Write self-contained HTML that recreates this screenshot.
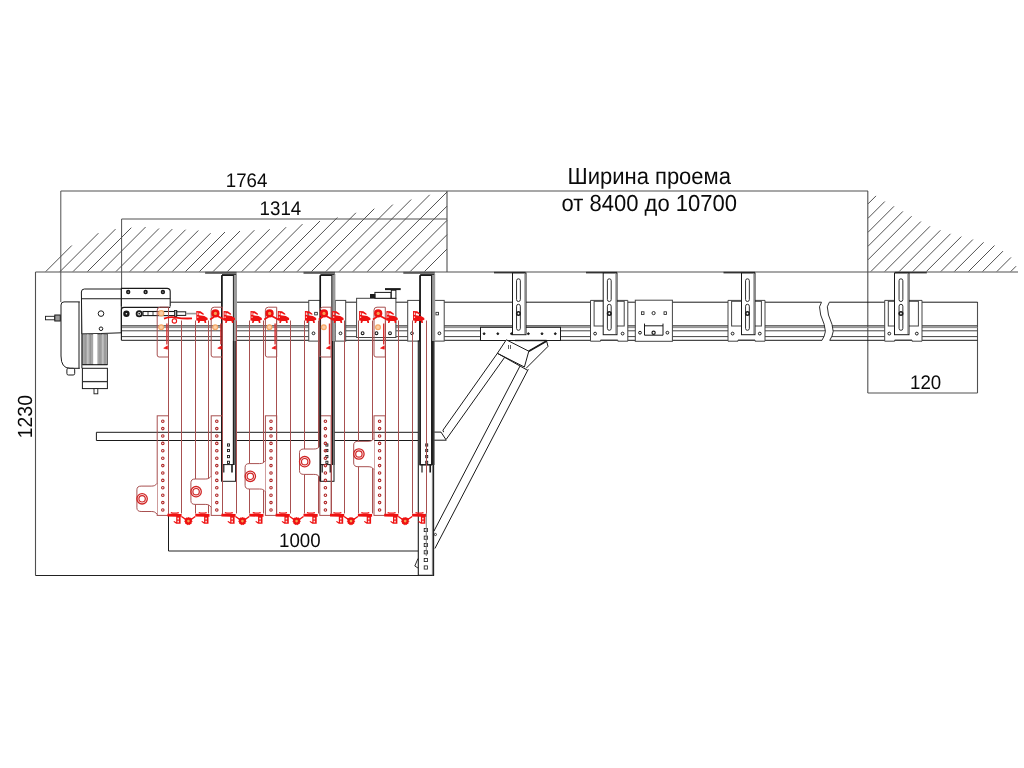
<!DOCTYPE html>
<html><head><meta charset="utf-8"><style>html,body{margin:0;padding:0;background:#fff;}svg{display:block;will-change:transform;}</style></head>
<body><svg width="1024" height="768" viewBox="0 0 1024 768">
<rect width="1024" height="768" fill="#fff"/>
<line x1="45.8" y1="271.5" x2="71.8" y2="245.5" stroke="#262626" stroke-width="0.8" />
<line x1="60.1" y1="271.5" x2="98.4" y2="233.2" stroke="#262626" stroke-width="0.8" />
<line x1="73.1" y1="271.5" x2="115.5" y2="229.1" stroke="#262626" stroke-width="0.8" />
<line x1="87.5" y1="271.5" x2="131.3" y2="227.7" stroke="#262626" stroke-width="0.8" />
<line x1="101.1" y1="271.5" x2="145.6" y2="227" stroke="#262626" stroke-width="0.8" />
<line x1="116" y1="271.5" x2="159" y2="228.5" stroke="#262626" stroke-width="0.8" />
<line x1="129.9" y1="271.5" x2="172.3" y2="229.1" stroke="#262626" stroke-width="0.8" />
<line x1="143.8" y1="271.5" x2="185.6" y2="229.7" stroke="#262626" stroke-width="0.8" />
<line x1="157.3" y1="271.5" x2="198.3" y2="230.5" stroke="#262626" stroke-width="0.8" />
<line x1="172.3" y1="271.5" x2="210.6" y2="233.2" stroke="#262626" stroke-width="0.8" />
<line x1="185.5" y1="271.5" x2="225" y2="232" stroke="#262626" stroke-width="0.8" />
<line x1="199.5" y1="271.5" x2="240" y2="231" stroke="#262626" stroke-width="0.8" />
<line x1="213.1" y1="271.5" x2="254.4" y2="230.2" stroke="#262626" stroke-width="0.8" />
<line x1="227.4" y1="271.5" x2="269.7" y2="229.2" stroke="#262626" stroke-width="0.8" />
<line x1="241.8" y1="271.5" x2="286.1" y2="227.2" stroke="#262626" stroke-width="0.8" />
<line x1="255.1" y1="271.5" x2="302.5" y2="224.1" stroke="#262626" stroke-width="0.8" />
<line x1="269.5" y1="271.5" x2="320" y2="221" stroke="#262626" stroke-width="0.8" />
<line x1="283.4" y1="271.5" x2="337.4" y2="217.5" stroke="#262626" stroke-width="0.8" />
<line x1="297.2" y1="271.5" x2="355.9" y2="212.8" stroke="#262626" stroke-width="0.8" />
<line x1="311.5" y1="271.5" x2="374.3" y2="208.7" stroke="#262626" stroke-width="0.8" />
<line x1="325.9" y1="271.5" x2="392.8" y2="204.6" stroke="#262626" stroke-width="0.8" />
<line x1="339.2" y1="271.5" x2="411.2" y2="199.5" stroke="#262626" stroke-width="0.8" />
<line x1="353" y1="271.5" x2="429.7" y2="194.8" stroke="#262626" stroke-width="0.8" />
<line x1="367.3" y1="271.5" x2="447" y2="192" stroke="#262626" stroke-width="0.8" />
<line x1="381.6" y1="271.5" x2="447" y2="206.1" stroke="#262626" stroke-width="0.8" />
<line x1="395.9" y1="271.5" x2="447" y2="220.4" stroke="#262626" stroke-width="0.8" />
<line x1="410.2" y1="271.5" x2="447" y2="234.7" stroke="#262626" stroke-width="0.8" />
<line x1="424.5" y1="271.5" x2="447" y2="249" stroke="#262626" stroke-width="0.8" />
<line x1="868" y1="203.9" x2="876" y2="195.9" stroke="#262626" stroke-width="0.8" />
<line x1="868" y1="218.3" x2="884.8" y2="201.5" stroke="#262626" stroke-width="0.8" />
<line x1="868" y1="232.3" x2="894" y2="206.3" stroke="#262626" stroke-width="0.8" />
<line x1="868" y1="246.3" x2="902.9" y2="211.4" stroke="#262626" stroke-width="0.8" />
<line x1="868" y1="259.8" x2="911.6" y2="216.2" stroke="#262626" stroke-width="0.8" />
<line x1="870.9" y1="271.5" x2="920.9" y2="221.5" stroke="#262626" stroke-width="0.8" />
<line x1="884.8" y1="271.5" x2="930" y2="226.3" stroke="#262626" stroke-width="0.8" />
<line x1="899.2" y1="271.5" x2="940.4" y2="230.3" stroke="#262626" stroke-width="0.8" />
<line x1="912.8" y1="271.5" x2="950.5" y2="233.8" stroke="#262626" stroke-width="0.8" />
<line x1="926.4" y1="271.5" x2="961.3" y2="236.6" stroke="#262626" stroke-width="0.8" />
<line x1="940.9" y1="271.5" x2="972.9" y2="239.5" stroke="#262626" stroke-width="0.8" />
<line x1="954.4" y1="271.5" x2="983.6" y2="242.3" stroke="#262626" stroke-width="0.8" />
<line x1="968.5" y1="271.5" x2="994.5" y2="245.5" stroke="#262626" stroke-width="0.8" />
<line x1="982.6" y1="271.5" x2="1003" y2="251.1" stroke="#262626" stroke-width="0.8" />
<line x1="996.9" y1="271.5" x2="1011" y2="257.4" stroke="#262626" stroke-width="0.8" />
<line x1="1010.8" y1="271.5" x2="1016.1" y2="266.2" stroke="#262626" stroke-width="0.8" />
<line x1="60.8" y1="191" x2="868" y2="191" stroke="#505050" stroke-width="1.1" />
<line x1="60.8" y1="191" x2="60.8" y2="302" stroke="#505050" stroke-width="1" />
<line x1="121.6" y1="219" x2="447" y2="219" stroke="#505050" stroke-width="1.1" />
<line x1="121.6" y1="219" x2="121.6" y2="307" stroke="#505050" stroke-width="1" />
<line x1="447" y1="191" x2="447" y2="272" stroke="#505050" stroke-width="1.1" />
<line x1="867.8" y1="191" x2="867.8" y2="393" stroke="#505050" stroke-width="1.1" />
<line x1="35.5" y1="272" x2="1018" y2="272" stroke="#505050" stroke-width="1.2" />
<line x1="35.5" y1="272" x2="35.5" y2="575.5" stroke="#505050" stroke-width="1.1" />
<line x1="35.5" y1="575.5" x2="434" y2="575.5" stroke="#222" stroke-width="1.1" />
<line x1="168.5" y1="514" x2="168.5" y2="551" stroke="#1a1a1a" stroke-width="1" />
<line x1="168.5" y1="551" x2="418" y2="551" stroke="#222" stroke-width="1" />
<line x1="867.8" y1="393" x2="977.5" y2="393" stroke="#505050" stroke-width="1.1" />
<line x1="977.5" y1="302" x2="977.5" y2="393" stroke="#505050" stroke-width="1.1" />
<g font-family="Liberation Sans, sans-serif" fill="#0a0a0a" text-rendering="geometricPrecision">
<text transform="translate(567.5,184) scale(1,1.055)" font-size="22">Ширина проема</text>
<text transform="translate(561.6,211.3) scale(1,1.055)" font-size="22">от 8400 до 10700</text>
<text transform="translate(225.8,187) scale(1,1.055)" font-size="18.7">1764</text>
<text transform="translate(259.6,215) scale(1,1.055)" font-size="18.7">1314</text>
<text transform="translate(279,547) scale(1,1.055)" font-size="18.7">1000</text>
<text transform="translate(910,389) scale(1,1.055)" font-size="18.7">120</text>
<text transform="translate(31.6,438.2) rotate(-90) scale(1,1.055)" font-size="19.4">1230</text>
</g>
<line x1="96.4" y1="432.3" x2="418" y2="432.3" stroke="#1a1a1a" stroke-width="1" />
<line x1="96.4" y1="440.5" x2="418" y2="440.5" stroke="#1a1a1a" stroke-width="1" />
<line x1="96.4" y1="432.3" x2="96.4" y2="440.5" stroke="#1a1a1a" stroke-width="1" />
<line x1="434" y1="432.1" x2="441" y2="432.1" stroke="#1a1a1a" stroke-width="1" />
<line x1="434" y1="440.2" x2="446.3" y2="440.2" stroke="#1a1a1a" stroke-width="1" />
<line x1="170.2" y1="302.2" x2="821.5" y2="302.2" stroke="#1a1a1a" stroke-width="1.0" />
<line x1="829.3" y1="302.2" x2="977.5" y2="302.2" stroke="#1a1a1a" stroke-width="1.0" />
<line x1="121.4" y1="325.8" x2="824.4" y2="325.8" stroke="#3c3c3c" stroke-width="1.3" />
<line x1="832.2" y1="325.8" x2="977.5" y2="325.8" stroke="#3c3c3c" stroke-width="1.3" />
<line x1="121.4" y1="327.6" x2="824.8" y2="327.6" stroke="#8a8a8a" stroke-width="1.0" />
<line x1="832.6" y1="327.6" x2="977.5" y2="327.6" stroke="#8a8a8a" stroke-width="1.0" />
<line x1="121.4" y1="330.8" x2="825.3" y2="330.8" stroke="#444" stroke-width="1.0" />
<line x1="833.1" y1="330.8" x2="977.5" y2="330.8" stroke="#444" stroke-width="1.0" />
<line x1="121.4" y1="336.6" x2="824" y2="336.6" stroke="#444" stroke-width="1.0" />
<line x1="831.8" y1="336.6" x2="977.5" y2="336.6" stroke="#444" stroke-width="1.0" />
<line x1="121.4" y1="340.3" x2="822" y2="340.3" stroke="#1a1a1a" stroke-width="1.0" />
<line x1="829.8" y1="340.3" x2="977.5" y2="340.3" stroke="#1a1a1a" stroke-width="1.0" />
<path d="M821.5,302.3 L819.5,306.8 L820.7,315 L824.2,324.4 L825.4,331.4 L824.2,336.1 L821.9,340.4" stroke="#1a1a1a" stroke-width="0.9" fill="none" />
<path d="M829.3,302.3 L827.3,306.8 L828.5,315 L832,324.4 L833.2,331.4 L832,336.1 L829.7,340.4" stroke="#1a1a1a" stroke-width="0.9" fill="none" />
<path d="M79.8,301.9 H64 Q61,301.9 61,305 V356 Q61,368.3 70,368.3 H79.8" stroke="#1a1a1a" stroke-width="1" fill="#fff" />
<line x1="79" y1="301.9" x2="79" y2="368.3" stroke="#1a1a1a" stroke-width="1" />
<line x1="81.9" y1="301.9" x2="81.9" y2="368.3" stroke="#1a1a1a" stroke-width="1" />
<rect x="45.5" y="316.3" width="9.3" height="3.5" stroke="#1a1a1a" stroke-width="0.9" fill="#fff" rx="0" />
<rect x="54.8" y="315" width="5.5" height="6" stroke="#1a1a1a" stroke-width="1" fill="#999" rx="0" />
<rect x="66.9" y="368.3" width="7.8" height="6.7" stroke="#1a1a1a" stroke-width="1" fill="#fff" rx="1.5" />
<path d="M81.4,292 Q81.4,289 84.4,289 H121.3 V332.8 Q100,333.6 81.9,334 Z" stroke="#1a1a1a" stroke-width="1" fill="#fff" />
<line x1="81.4" y1="298.75" x2="121.3" y2="298.75" stroke="#1a1a1a" stroke-width="1" />
<circle cx="101" cy="313.6" r="2.8" stroke="#1a1a1a" stroke-width="1" fill="none"/>
<circle cx="101" cy="328.75" r="1.8" stroke="#1a1a1a" stroke-width="1" fill="none"/>
<rect x="82.4" y="334" width="25" height="30.7" stroke="#444" stroke-width="0.8" fill="#a6a6a6" rx="0" />
<rect x="93.2" y="334" width="4.2" height="30.7" stroke="none" stroke-width="0" fill="#fff" rx="0" />
<line x1="85.2" y1="334" x2="85.2" y2="364.7" stroke="#8a8a8a" stroke-width="0.7" />
<line x1="87.9" y1="334" x2="87.9" y2="364.7" stroke="#e8e8e8" stroke-width="0.7" />
<line x1="90.4" y1="334" x2="90.4" y2="364.7" stroke="#8a8a8a" stroke-width="0.7" />
<line x1="100" y1="334" x2="100" y2="364.7" stroke="#8a8a8a" stroke-width="0.7" />
<line x1="102.9" y1="334" x2="102.9" y2="364.7" stroke="#e8e8e8" stroke-width="0.7" />
<line x1="105" y1="334" x2="105" y2="364.7" stroke="#8a8a8a" stroke-width="0.7" />
<line x1="82.4" y1="364.7" x2="107.4" y2="364.7" stroke="#1a1a1a" stroke-width="1" />
<rect x="82.4" y="368.3" width="25" height="20.3" stroke="#1a1a1a" stroke-width="1" fill="#fff" rx="0" />
<line x1="82.4" y1="381.6" x2="107.4" y2="381.6" stroke="#333" stroke-width="1.3" />
<rect x="94" y="388.6" width="3.8" height="5.2" stroke="#1a1a1a" stroke-width="0.9" fill="#fff" rx="0" />
<path d="M121.4,306.4 V288.4 H167 Q170.2,288.4 170.2,291.6 V306.4" stroke="#1a1a1a" stroke-width="1.1" fill="#fff" />
<line x1="121.4" y1="298.7" x2="170.2" y2="298.7" stroke="#1a1a1a" stroke-width="1" />
<circle cx="128.2" cy="292" r="1.4" stroke="#1a1a1a" stroke-width="1.6" fill="none"/>
<circle cx="145.6" cy="292" r="1.4" stroke="#1a1a1a" stroke-width="1.6" fill="none"/>
<circle cx="162.9" cy="292" r="1.4" stroke="#1a1a1a" stroke-width="1.6" fill="none"/>
<path d="M121.4,340.2 V310 Q121.4,307.4 124,307.4 H170.2" stroke="#1a1a1a" stroke-width="1.1" fill="none" />
<circle cx="126.4" cy="313.7" r="3.2" stroke="#1a1a1a" stroke-width="0" fill="#1a1a1a"/>
<circle cx="126.4" cy="313.7" r="0.8" stroke="#fff" stroke-width="0" fill="#fff"/>
<circle cx="139.2" cy="313.7" r="2.6" stroke="#1a1a1a" stroke-width="1.8" fill="#fff"/>
<circle cx="139.2" cy="313.7" r="0.9" stroke="#1a1a1a" stroke-width="0" fill="#1a1a1a"/>
<rect x="143" y="311.5" width="33.6" height="4.1" stroke="#1a1a1a" stroke-width="1.1" fill="#fff" rx="0" />
<line x1="148" y1="311.5" x2="148" y2="315.6" stroke="#1a1a1a" stroke-width="0.8" />
<line x1="153" y1="311.5" x2="153" y2="315.6" stroke="#1a1a1a" stroke-width="0.8" />
<rect x="174.5" y="310.5" width="2.3" height="6" stroke="#1a1a1a" stroke-width="0.8" fill="#aaa" rx="0" />
<rect x="176.8" y="311.8" width="8.9" height="3.6" stroke="#1a1a1a" stroke-width="1" fill="#fff" rx="0" />
<line x1="185.7" y1="313.6" x2="196" y2="313.6" stroke="#999" stroke-width="1.6" />
<rect x="308.75" y="300.4" width="11.45" height="40.7" stroke="#444" stroke-width="1" fill="#fff" rx="0" />
<circle cx="313.5" cy="333.3" r="1.4" stroke="#1a1a1a" stroke-width="1" fill="none"/>
<rect x="314.7" y="312.3" width="2.6" height="2.6" stroke="#1a1a1a" stroke-width="0.8" fill="none" rx="0" />
<rect x="335.3" y="300.4" width="10.4" height="40.7" stroke="#444" stroke-width="1" fill="#fff" rx="0" />
<circle cx="340.5" cy="333.3" r="1.4" stroke="#1a1a1a" stroke-width="1" fill="none"/>
<rect x="407.7" y="300.4" width="11.8" height="40.7" stroke="#444" stroke-width="1" fill="#fff" rx="0" />
<circle cx="412" cy="333.3" r="1.4" stroke="#1a1a1a" stroke-width="1" fill="none"/>
<rect x="434.5" y="300.4" width="9.7" height="40.7" stroke="#444" stroke-width="1" fill="#fff" rx="0" />
<circle cx="439.4" cy="333.3" r="1.4" stroke="#1a1a1a" stroke-width="1" fill="none"/>
<rect x="435.9" y="312.3" width="2.6" height="2.6" stroke="#1a1a1a" stroke-width="0.8" fill="none" rx="0" />
<rect x="356.6" y="298.3" width="39.3" height="39.2" stroke="#444" stroke-width="1" fill="#fff" rx="0" />
<rect x="374.9" y="292.4" width="16.1" height="5.9" stroke="#1a1a1a" stroke-width="1" fill="#fff" rx="0" />
<rect x="370.5" y="294.5" width="4.4" height="3" stroke="#1a1a1a" stroke-width="1" fill="#1a1a1a" rx="0" />
<rect x="391.3" y="290.2" width="4.6" height="8.1" stroke="#1a1a1a" stroke-width="1" fill="#fff" rx="0" />
<line x1="385" y1="289.1" x2="400.7" y2="289.1" stroke="#1a1a1a" stroke-width="2.0" />
<circle cx="362.6" cy="333.2" r="1.4" stroke="#1a1a1a" stroke-width="1.1" fill="none"/>
<circle cx="376.5" cy="333.2" r="1.4" stroke="#1a1a1a" stroke-width="1.1" fill="none"/>
<circle cx="390" cy="333.2" r="1.4" stroke="#1a1a1a" stroke-width="1.1" fill="none"/>
<line x1="205.1" y1="272.8" x2="236.6" y2="272.8" stroke="#555" stroke-width="2.0" />
<rect x="221.8" y="275.5" width="13.8" height="205.8" stroke="#1a1a1a" stroke-width="1" fill="#fff" rx="0" />
<line x1="221.9" y1="275.5" x2="221.9" y2="481.3" stroke="#111" stroke-width="1.5" />
<rect x="233.6" y="274" width="3.4" height="67" stroke="none" stroke-width="0" fill="#9a9a9a" rx="0" />
<line x1="233.8" y1="341" x2="233.8" y2="465" stroke="#1a1a1a" stroke-width="1.8" />
<line x1="235.9" y1="341" x2="235.9" y2="465" stroke="#555" stroke-width="1" />
<line x1="233.4" y1="274" x2="233.4" y2="465" stroke="#222" stroke-width="1" />
<line x1="222" y1="274.5" x2="236" y2="274.5" stroke="#333" stroke-width="1" />
<line x1="221.8" y1="464.6" x2="233.4" y2="464.6" stroke="#1a1a1a" stroke-width="1" />
<line x1="223.8" y1="464.6" x2="223.8" y2="472.5" stroke="#1a1a1a" stroke-width="1.2" />
<line x1="232" y1="464.6" x2="232" y2="472.5" stroke="#1a1a1a" stroke-width="1.6" />
<rect x="227.5" y="443.9" width="2" height="2.2" stroke="#1a1a1a" stroke-width="0.9" fill="none" rx="0" />
<rect x="227.5" y="449.4" width="2" height="2.2" stroke="#1a1a1a" stroke-width="0.9" fill="none" rx="0" />
<rect x="227.5" y="455.5" width="2" height="2.2" stroke="#1a1a1a" stroke-width="0.9" fill="none" rx="0" />
<rect x="227.5" y="461.2" width="2" height="2.2" stroke="#1a1a1a" stroke-width="0.9" fill="none" rx="0" />
<line x1="303.5" y1="272.8" x2="335" y2="272.8" stroke="#555" stroke-width="2.0" />
<rect x="320.2" y="275.5" width="13.8" height="205.8" stroke="#1a1a1a" stroke-width="1" fill="#fff" rx="0" />
<line x1="320.3" y1="275.5" x2="320.3" y2="481.3" stroke="#111" stroke-width="1.5" />
<rect x="332" y="274" width="3.4" height="67" stroke="none" stroke-width="0" fill="#9a9a9a" rx="0" />
<line x1="332.2" y1="341" x2="332.2" y2="465" stroke="#1a1a1a" stroke-width="1.8" />
<line x1="334.3" y1="341" x2="334.3" y2="465" stroke="#555" stroke-width="1" />
<line x1="331.8" y1="274" x2="331.8" y2="465" stroke="#222" stroke-width="1" />
<line x1="320.4" y1="274.5" x2="334.4" y2="274.5" stroke="#333" stroke-width="1" />
<line x1="320.2" y1="464.6" x2="331.8" y2="464.6" stroke="#1a1a1a" stroke-width="1" />
<line x1="322.2" y1="464.6" x2="322.2" y2="472.5" stroke="#1a1a1a" stroke-width="1.2" />
<line x1="330.4" y1="464.6" x2="330.4" y2="472.5" stroke="#1a1a1a" stroke-width="1.6" />
<rect x="325.9" y="443.9" width="2" height="2.2" stroke="#1a1a1a" stroke-width="0.9" fill="none" rx="0" />
<rect x="325.9" y="449.4" width="2" height="2.2" stroke="#1a1a1a" stroke-width="0.9" fill="none" rx="0" />
<rect x="325.9" y="455.5" width="2" height="2.2" stroke="#1a1a1a" stroke-width="0.9" fill="none" rx="0" />
<rect x="325.9" y="461.2" width="2" height="2.2" stroke="#1a1a1a" stroke-width="0.9" fill="none" rx="0" />
<rect x="418.3" y="341" width="15.3" height="234.3" stroke="#1a1a1a" stroke-width="1.1" fill="#fff" rx="0" />
<line x1="432.4" y1="341" x2="432.4" y2="575.3" stroke="#666" stroke-width="0.9" />
<line x1="403.3" y1="272.8" x2="434.8" y2="272.8" stroke="#555" stroke-width="2.0" />
<rect x="420" y="275.5" width="11.6" height="189.5" stroke="#1a1a1a" stroke-width="1" fill="#fff" rx="0" />
<line x1="420.1" y1="275.5" x2="420.1" y2="465" stroke="#111" stroke-width="1.5" />
<rect x="431.8" y="274" width="3.4" height="67" stroke="none" stroke-width="0" fill="#9a9a9a" rx="0" />
<line x1="432" y1="341" x2="432" y2="465" stroke="#1a1a1a" stroke-width="1.8" />
<line x1="434.1" y1="341" x2="434.1" y2="465" stroke="#555" stroke-width="1" />
<line x1="431.6" y1="274" x2="431.6" y2="465" stroke="#222" stroke-width="1" />
<line x1="420.2" y1="274.5" x2="434.2" y2="274.5" stroke="#333" stroke-width="1" />
<line x1="420" y1="464.6" x2="431.6" y2="464.6" stroke="#1a1a1a" stroke-width="1" />
<line x1="422" y1="464.6" x2="422" y2="472.5" stroke="#1a1a1a" stroke-width="1.2" />
<line x1="430.2" y1="464.6" x2="430.2" y2="472.5" stroke="#1a1a1a" stroke-width="1.6" />
<rect x="425.7" y="443.9" width="2" height="2.2" stroke="#1a1a1a" stroke-width="0.9" fill="none" rx="0" />
<rect x="425.7" y="449.4" width="2" height="2.2" stroke="#1a1a1a" stroke-width="0.9" fill="none" rx="0" />
<rect x="425.7" y="455.5" width="2" height="2.2" stroke="#1a1a1a" stroke-width="0.9" fill="none" rx="0" />
<rect x="425.7" y="461.2" width="2" height="2.2" stroke="#1a1a1a" stroke-width="0.9" fill="none" rx="0" />
<rect x="424.2" y="528.4" width="3.2" height="3.2" stroke="#1a1a1a" stroke-width="0.8" fill="none" rx="0" />
<rect x="424.2" y="536.1" width="3.2" height="3.2" stroke="#1a1a1a" stroke-width="0.8" fill="none" rx="0" />
<rect x="424.2" y="543.4" width="3.2" height="3.2" stroke="#1a1a1a" stroke-width="0.8" fill="none" rx="0" />
<rect x="424.2" y="550.7" width="3.2" height="3.2" stroke="#1a1a1a" stroke-width="0.8" fill="none" rx="0" />
<rect x="424.2" y="558.4" width="3.2" height="3.2" stroke="#1a1a1a" stroke-width="0.8" fill="none" rx="0" />
<rect x="424.2" y="565.9" width="3.2" height="3.2" stroke="#1a1a1a" stroke-width="0.8" fill="none" rx="0" />
<path d="M418,558.5 L414.8,566 L418,568" stroke="#1a1a1a" stroke-width="0.9" fill="none" />
<rect x="480.5" y="327.3" width="80" height="13.2" stroke="#1a1a1a" stroke-width="1" fill="#fff" rx="0" />
<circle cx="484.1" cy="333.7" r="0.9" stroke="#1a1a1a" stroke-width="1" fill="#1a1a1a"/>
<circle cx="497.8" cy="333.7" r="0.9" stroke="#1a1a1a" stroke-width="1" fill="#1a1a1a"/>
<circle cx="511.5" cy="333.7" r="0.9" stroke="#1a1a1a" stroke-width="1" fill="#1a1a1a"/>
<circle cx="528.4" cy="333.7" r="0.9" stroke="#1a1a1a" stroke-width="1" fill="#1a1a1a"/>
<circle cx="542" cy="333.7" r="0.9" stroke="#1a1a1a" stroke-width="1" fill="#1a1a1a"/>
<circle cx="555.3" cy="333.7" r="0.9" stroke="#1a1a1a" stroke-width="1" fill="#1a1a1a"/>
<line x1="494" y1="272.6" x2="525.5" y2="272.6" stroke="#333" stroke-width="1.6" />
<rect x="512.5" y="273" width="13.5" height="61.7" stroke="#1a1a1a" stroke-width="1" fill="#fff" rx="0" />
<line x1="524.8" y1="274" x2="524.8" y2="334" stroke="#777" stroke-width="0.8" />
<rect x="516.55" y="278.8" width="3.8" height="22.7" stroke="#1a1a1a" stroke-width="0.9" fill="none" rx="1.9" />
<rect x="516.55" y="304.3" width="3.8" height="26" stroke="#1a1a1a" stroke-width="0.9" fill="none" rx="1.9" />
<circle cx="518.45" cy="313.5" r="2.5" stroke="#1a1a1a" stroke-width="0" fill="#1a1a1a"/>
<circle cx="518.45" cy="313.5" r="0.9" stroke="#fff" stroke-width="0" fill="#fff"/>
<path d="M590.5,300.4 H627.8 V341.2 H617.8 V340 H600.5 V341.2 H590.5 Z" stroke="#444" stroke-width="1" fill="#fff" />
<rect x="594.1" y="301.3" width="30.1" height="24.7" stroke="#444" stroke-width="1" fill="#fff" rx="0" />
<circle cx="595.1" cy="333.6" r="1.4" stroke="#1a1a1a" stroke-width="1" fill="none"/>
<circle cx="622.6" cy="333.6" r="1.4" stroke="#1a1a1a" stroke-width="1" fill="none"/>
<line x1="586" y1="272.6" x2="617" y2="272.6" stroke="#333" stroke-width="1.6" />
<rect x="603.2" y="273" width="13.8" height="61.7" stroke="#1a1a1a" stroke-width="1" fill="#fff" rx="0" />
<line x1="615.8" y1="274" x2="615.8" y2="334" stroke="#777" stroke-width="0.8" />
<rect x="607.4" y="278.8" width="3.8" height="22.7" stroke="#1a1a1a" stroke-width="0.9" fill="none" rx="1.9" />
<rect x="607.4" y="304.3" width="3.8" height="26" stroke="#1a1a1a" stroke-width="0.9" fill="none" rx="1.9" />
<circle cx="609.3" cy="313.5" r="2.5" stroke="#1a1a1a" stroke-width="0" fill="#1a1a1a"/>
<circle cx="609.3" cy="313.5" r="0.9" stroke="#fff" stroke-width="0" fill="#fff"/>
<path d="M728,300.4 H765 V341.2 H755 V340 H738 V341.2 H728 Z" stroke="#444" stroke-width="1" fill="#fff" />
<rect x="731.6" y="301.3" width="29.8" height="24.7" stroke="#444" stroke-width="1" fill="#fff" rx="0" />
<circle cx="732.6" cy="333.6" r="1.4" stroke="#1a1a1a" stroke-width="1" fill="none"/>
<circle cx="759.8" cy="333.6" r="1.4" stroke="#1a1a1a" stroke-width="1" fill="none"/>
<line x1="723.5" y1="272.6" x2="755" y2="272.6" stroke="#333" stroke-width="1.6" />
<rect x="741.5" y="273" width="13.5" height="61.7" stroke="#1a1a1a" stroke-width="1" fill="#fff" rx="0" />
<line x1="753.8" y1="274" x2="753.8" y2="334" stroke="#777" stroke-width="0.8" />
<rect x="745.55" y="278.8" width="3.8" height="22.7" stroke="#1a1a1a" stroke-width="0.9" fill="none" rx="1.9" />
<rect x="745.55" y="304.3" width="3.8" height="26" stroke="#1a1a1a" stroke-width="0.9" fill="none" rx="1.9" />
<circle cx="747.45" cy="313.5" r="2.5" stroke="#1a1a1a" stroke-width="0" fill="#1a1a1a"/>
<circle cx="747.45" cy="313.5" r="0.9" stroke="#fff" stroke-width="0" fill="#fff"/>
<path d="M884.7,300.4 H922 V341.2 H912 V340 H894.7 V341.2 H884.7 Z" stroke="#444" stroke-width="1" fill="#fff" />
<rect x="888.3" y="301.3" width="30.1" height="24.7" stroke="#444" stroke-width="1" fill="#fff" rx="0" />
<circle cx="889.3" cy="333.6" r="1.4" stroke="#1a1a1a" stroke-width="1" fill="none"/>
<circle cx="916.8" cy="333.6" r="1.4" stroke="#1a1a1a" stroke-width="1" fill="none"/>
<line x1="895" y1="272.6" x2="926.8" y2="272.6" stroke="#333" stroke-width="1.6" />
<rect x="894.5" y="273" width="14.5" height="61.7" stroke="#1a1a1a" stroke-width="1" fill="#fff" rx="0" />
<line x1="907.8" y1="274" x2="907.8" y2="334" stroke="#777" stroke-width="0.8" />
<rect x="899.05" y="278.8" width="3.8" height="22.7" stroke="#1a1a1a" stroke-width="0.9" fill="none" rx="1.9" />
<rect x="899.05" y="304.3" width="3.8" height="26" stroke="#1a1a1a" stroke-width="0.9" fill="none" rx="1.9" />
<circle cx="900.95" cy="313.5" r="2.5" stroke="#1a1a1a" stroke-width="0" fill="#1a1a1a"/>
<circle cx="900.95" cy="313.5" r="0.9" stroke="#fff" stroke-width="0" fill="#fff"/>
<rect x="635.3" y="300.2" width="37.1" height="41.1" stroke="#444" stroke-width="1" fill="#fff" rx="0" />
<rect x="641.5" y="311.8" width="2.5" height="2.6" stroke="#1a1a1a" stroke-width="0.8" fill="none" rx="0" />
<rect x="664" y="311.8" width="2.5" height="2.6" stroke="#1a1a1a" stroke-width="0.8" fill="none" rx="0" />
<circle cx="653.6" cy="313.1" r="1.6" stroke="#1a1a1a" stroke-width="0.9" fill="none"/>
<path d="M644.5,323.6 V335.2 H663 V323.6" stroke="#1a1a1a" stroke-width="1" fill="none" />
<line x1="644.5" y1="325.8" x2="663" y2="325.8" stroke="#1a1a1a" stroke-width="1" />
<circle cx="640" cy="332.7" r="1.4" stroke="#1a1a1a" stroke-width="1" fill="none"/>
<circle cx="667.4" cy="332.7" r="1.4" stroke="#1a1a1a" stroke-width="1" fill="none"/>
<circle cx="653.6" cy="332.7" r="1.6" stroke="#1a1a1a" stroke-width="1.2" fill="none"/>
<line x1="520.2" y1="365.7" x2="434" y2="531" stroke="#1a1a1a" stroke-width="1" />
<line x1="528.3" y1="369.2" x2="434.9" y2="548.5" stroke="#1a1a1a" stroke-width="1" />
<path d="M497.4,353.3 L443,430.1 Q442.5,431.5 444,432" stroke="#1a1a1a" stroke-width="1" fill="none" />
<line x1="504.6" y1="357.4" x2="446.3" y2="439.2" stroke="#1a1a1a" stroke-width="1" />
<path d="M441,432.1 L446.3,440.2" stroke="#1a1a1a" stroke-width="1" fill="none" />
<path d="M506.3,339.8 L528.8,351.2 L524.4,367 L497.4,353.3 Z" stroke="#1a1a1a" stroke-width="1" fill="#fff" />
<line x1="497.4" y1="353.3" x2="527.4" y2="370.2" stroke="#1a1a1a" stroke-width="1" />
<path d="M528.8,351.2 L546.6,341 L548,346.4 L526,368.4" stroke="#1a1a1a" stroke-width="1" fill="none" />
<line x1="528.8" y1="351.2" x2="546.6" y2="341" stroke="#1a1a1a" stroke-width="1.8" />
<line x1="515" y1="340.5" x2="546.6" y2="340.5" stroke="#1a1a1a" stroke-width="1.4" />
<path d="M508.5,345 v4 M510.5,345 v4" stroke="#1a1a1a" stroke-width="0.7" fill="none" />
<circle cx="435.4" cy="534.5" r="1.1" stroke="#1a1a1a" stroke-width="0.8" fill="none"/>
<line x1="168.5" y1="320.5" x2="168.5" y2="513.5" stroke="#a85050" stroke-width="1" />
<line x1="181.5" y1="320.5" x2="181.5" y2="513.5" stroke="#a85050" stroke-width="1" />
<line x1="195.5" y1="320.5" x2="195.5" y2="513.5" stroke="#a85050" stroke-width="1" />
<line x1="208.5" y1="320.5" x2="208.5" y2="513.5" stroke="#a85050" stroke-width="1" />
<line x1="222.5" y1="320.5" x2="222.5" y2="513.5" stroke="#a85050" stroke-width="1" />
<line x1="236.5" y1="320.5" x2="236.5" y2="513.5" stroke="#a85050" stroke-width="1" />
<line x1="249.5" y1="320.5" x2="249.5" y2="513.5" stroke="#a85050" stroke-width="1" />
<line x1="263.5" y1="320.5" x2="263.5" y2="513.5" stroke="#a85050" stroke-width="1" />
<line x1="276.5" y1="320.5" x2="276.5" y2="513.5" stroke="#a85050" stroke-width="1" />
<line x1="290.5" y1="320.5" x2="290.5" y2="513.5" stroke="#a85050" stroke-width="1" />
<line x1="304.5" y1="320.5" x2="304.5" y2="513.5" stroke="#a85050" stroke-width="1" />
<line x1="318.5" y1="320.5" x2="318.5" y2="513.5" stroke="#a85050" stroke-width="1" />
<line x1="331.5" y1="320.5" x2="331.5" y2="513.5" stroke="#a85050" stroke-width="1" />
<line x1="344.5" y1="320.5" x2="344.5" y2="513.5" stroke="#a85050" stroke-width="1" />
<line x1="358.5" y1="320.5" x2="358.5" y2="513.5" stroke="#a85050" stroke-width="1" />
<line x1="372.5" y1="320.5" x2="372.5" y2="513.5" stroke="#a85050" stroke-width="1" />
<line x1="385.5" y1="320.5" x2="385.5" y2="513.5" stroke="#a85050" stroke-width="1" />
<line x1="398.5" y1="320.5" x2="398.5" y2="513.5" stroke="#a85050" stroke-width="1" />
<line x1="412.5" y1="320.5" x2="412.5" y2="513.5" stroke="#a85050" stroke-width="1" />
<line x1="426.5" y1="320.5" x2="426.5" y2="513.5" stroke="#a85050" stroke-width="1" />
<path d="M168.5,307.2 H160.2 Q157.2,307.2 157.2,310.2 V355 Q157.2,357 159.2,357 H168.5" stroke="#a85050" stroke-width="1" fill="none" />
<line x1="168.5" y1="307.2" x2="168.5" y2="357" stroke="#a85050" stroke-width="1" />
<circle cx="161.2" cy="313.3" r="2.6" stroke="#f5a868" stroke-width="1.2" fill="#fbd0a8"/>
<circle cx="161.2" cy="327.2" r="2.4" stroke="#f5a868" stroke-width="1.2" fill="#fbd0a8"/>
<line x1="166.9" y1="323.5" x2="166.9" y2="344.5" stroke="#d83030" stroke-width="1.4" />
<path d="M167.5,345.8 L163.7,348.2 L167.5,349.2 Z" stroke="#ee1111" stroke-width="0.6" fill="#ee1111" />
<path d="M164,318.6 Q170,316.3 176,317.6 Q183,318.8 192,318.4" stroke="#ee1111" stroke-width="1.8" fill="none" />
<circle cx="174.4" cy="320.9" r="2.2" stroke="#ee1111" stroke-width="1.1" fill="none"/>
<rect x="157.2" y="415.8" width="11.3" height="99.6" stroke="#a85050" stroke-width="1" fill="none" rx="0" />
<circle cx="162.8" cy="421.2" r="1.25" stroke="#b02828" stroke-width="1.1" fill="none"/>
<circle cx="162.8" cy="428.6" r="1.25" stroke="#b02828" stroke-width="1.1" fill="none"/>
<circle cx="162.8" cy="436" r="1.25" stroke="#b02828" stroke-width="1.1" fill="none"/>
<circle cx="162.8" cy="443.4" r="1.25" stroke="#b02828" stroke-width="1.1" fill="none"/>
<circle cx="162.8" cy="450.8" r="1.25" stroke="#b02828" stroke-width="1.1" fill="none"/>
<circle cx="162.8" cy="458.2" r="1.25" stroke="#b02828" stroke-width="1.1" fill="none"/>
<circle cx="162.8" cy="465.6" r="1.25" stroke="#b02828" stroke-width="1.1" fill="none"/>
<circle cx="162.8" cy="473" r="1.25" stroke="#b02828" stroke-width="1.1" fill="none"/>
<circle cx="162.8" cy="480.4" r="1.25" stroke="#b02828" stroke-width="1.1" fill="none"/>
<circle cx="162.8" cy="487.8" r="1.25" stroke="#b02828" stroke-width="1.1" fill="none"/>
<circle cx="162.8" cy="495.2" r="1.25" stroke="#b02828" stroke-width="1.1" fill="none"/>
<circle cx="162.8" cy="502.6" r="1.25" stroke="#b02828" stroke-width="1.1" fill="none"/>
<circle cx="162.8" cy="510" r="1.25" stroke="#b02828" stroke-width="1.1" fill="none"/>
<g transform="translate(167.4,512.3)"><path d="M0,1.5 L14.2,1.8 L14.2,4.4 L13.2,4.4 L13.2,11.5 L8.8,11.5 L6,9.4 L6.8,8.8 L8.8,10 L8.8,4.4 L0,4.2 Z" fill="#ee1111"/><path d="M3.4,0.3 Q7.4,1.4 11.4,0.3" stroke="#ee1111" stroke-width="1.4" fill="none"/><rect x="10" y="5.4" width="1.6" height="1.8" fill="#fff" opacity="0.85"/><rect x="10" y="8.4" width="1.6" height="1.8" fill="#fff" opacity="0.85"/></g>
<g transform="translate(195.3,512.3)"><path d="M0,1.5 L14.2,1.8 L14.2,4.4 L13.2,4.4 L13.2,11.5 L8.8,11.5 L6,9.4 L6.8,8.8 L8.8,10 L8.8,4.4 L0,4.2 Z" fill="#ee1111"/><path d="M3.4,0.3 Q7.4,1.4 11.4,0.3" stroke="#ee1111" stroke-width="1.4" fill="none"/><rect x="10" y="5.4" width="1.6" height="1.8" fill="#fff" opacity="0.85"/><rect x="10" y="8.4" width="1.6" height="1.8" fill="#fff" opacity="0.85"/></g>
<path d="M181.5,516.5 Q188.5,523 195.3,516.5" stroke="#ee1111" stroke-width="1.2" fill="none" />
<circle cx="188.4" cy="521.1" r="3.6" fill="#ee1111" stroke="#ee1111" stroke-width="1" stroke-dasharray="1 1"/>
<circle cx="188.4" cy="521.1" r="1.3" stroke="#f7a050" stroke-width="0" fill="#f7a050"/>
<path d="M222.5,307.2 H214.2 Q211.2,307.2 211.2,310.2 V355 Q211.2,357 213.2,357 H222.5" stroke="#a85050" stroke-width="1" fill="none" />
<line x1="222.5" y1="307.2" x2="222.5" y2="357" stroke="#a85050" stroke-width="1" />
<path d="M210,319.5 Q213.5,318 215.4,315 M215.4,315 Q219.5,317 224,319.5" stroke="#ee1111" stroke-width="1.8" fill="none" />
<circle cx="215.4" cy="313.4" r="4.1" stroke="#ee1111" stroke-width="0" fill="#ee1111"/>
<circle cx="215.4" cy="313.4" r="1.6" stroke="#f7a050" stroke-width="0" fill="#f7a050"/>
<circle cx="215.2" cy="327.2" r="2.4" stroke="#f5a868" stroke-width="1.2" fill="#fbd0a8"/>
<line x1="220.9" y1="323.5" x2="220.9" y2="344.5" stroke="#d83030" stroke-width="1.4" />
<path d="M221.5,345.8 L217.7,348.2 L221.5,349.2 Z" stroke="#ee1111" stroke-width="0.6" fill="#ee1111" />
<g transform="translate(196.3,310.9)"><path d="M0,0 L4.2,0.4 L7.3,2.6 L7.6,3.9 L6.2,3.6 L4,2.4 L2.8,2.4 L2.8,4.4 L8,5.2 L11.3,7.2 L11.3,9 L9.6,9.4 L10,12 L8.4,12 L7.8,10.2 L3.8,10.2 L3,12 L1.6,12 L1.8,9.8 L0,9.6 Z" fill="#ee1111"/><rect x="0.9" y="1.6" width="1.2" height="2.4" fill="#fff" opacity="0.8"/><rect x="0.9" y="5.6" width="1.2" height="1.4" fill="#fff" opacity="0.8"/></g>
<g transform="translate(223.6,310.9)"><path d="M0,0 L4.2,0.4 L7.3,2.6 L7.6,3.9 L6.2,3.6 L4,2.4 L2.8,2.4 L2.8,4.4 L8,5.2 L11.3,7.2 L11.3,9 L9.6,9.4 L10,12 L8.4,12 L7.8,10.2 L3.8,10.2 L3,12 L1.6,12 L1.8,9.8 L0,9.6 Z" fill="#ee1111"/><rect x="0.9" y="1.6" width="1.2" height="2.4" fill="#fff" opacity="0.8"/><rect x="0.9" y="5.6" width="1.2" height="1.4" fill="#fff" opacity="0.8"/></g>
<rect x="211.2" y="415.8" width="11.3" height="99.6" stroke="#a85050" stroke-width="1" fill="none" rx="0" />
<circle cx="216.8" cy="421.2" r="1.25" stroke="#b02828" stroke-width="1.1" fill="none"/>
<circle cx="216.8" cy="428.6" r="1.25" stroke="#b02828" stroke-width="1.1" fill="none"/>
<circle cx="216.8" cy="436" r="1.25" stroke="#b02828" stroke-width="1.1" fill="none"/>
<circle cx="216.8" cy="443.4" r="1.25" stroke="#b02828" stroke-width="1.1" fill="none"/>
<circle cx="216.8" cy="450.8" r="1.25" stroke="#b02828" stroke-width="1.1" fill="none"/>
<circle cx="216.8" cy="458.2" r="1.25" stroke="#b02828" stroke-width="1.1" fill="none"/>
<circle cx="216.8" cy="465.6" r="1.25" stroke="#b02828" stroke-width="1.1" fill="none"/>
<circle cx="216.8" cy="473" r="1.25" stroke="#b02828" stroke-width="1.1" fill="none"/>
<circle cx="216.8" cy="480.4" r="1.25" stroke="#b02828" stroke-width="1.1" fill="none"/>
<circle cx="216.8" cy="487.8" r="1.25" stroke="#b02828" stroke-width="1.1" fill="none"/>
<circle cx="216.8" cy="495.2" r="1.25" stroke="#b02828" stroke-width="1.1" fill="none"/>
<circle cx="216.8" cy="502.6" r="1.25" stroke="#b02828" stroke-width="1.1" fill="none"/>
<circle cx="216.8" cy="510" r="1.25" stroke="#b02828" stroke-width="1.1" fill="none"/>
<g transform="translate(221.4,512.3)"><path d="M0,1.5 L14.2,1.8 L14.2,4.4 L13.2,4.4 L13.2,11.5 L8.8,11.5 L6,9.4 L6.8,8.8 L8.8,10 L8.8,4.4 L0,4.2 Z" fill="#ee1111"/><path d="M3.4,0.3 Q7.4,1.4 11.4,0.3" stroke="#ee1111" stroke-width="1.4" fill="none"/><rect x="10" y="5.4" width="1.6" height="1.8" fill="#fff" opacity="0.85"/><rect x="10" y="8.4" width="1.6" height="1.8" fill="#fff" opacity="0.85"/></g>
<g transform="translate(249.3,512.3)"><path d="M0,1.5 L14.2,1.8 L14.2,4.4 L13.2,4.4 L13.2,11.5 L8.8,11.5 L6,9.4 L6.8,8.8 L8.8,10 L8.8,4.4 L0,4.2 Z" fill="#ee1111"/><path d="M3.4,0.3 Q7.4,1.4 11.4,0.3" stroke="#ee1111" stroke-width="1.4" fill="none"/><rect x="10" y="5.4" width="1.6" height="1.8" fill="#fff" opacity="0.85"/><rect x="10" y="8.4" width="1.6" height="1.8" fill="#fff" opacity="0.85"/></g>
<path d="M235.5,516.5 Q242.5,523 249.3,516.5" stroke="#ee1111" stroke-width="1.2" fill="none" />
<circle cx="242.4" cy="521.1" r="3.6" fill="#ee1111" stroke="#ee1111" stroke-width="1" stroke-dasharray="1 1"/>
<circle cx="242.4" cy="521.1" r="1.3" stroke="#f7a050" stroke-width="0" fill="#f7a050"/>
<path d="M276.7,307.2 H268.4 Q265.4,307.2 265.4,310.2 V355 Q265.4,357 267.4,357 H276.7" stroke="#a85050" stroke-width="1" fill="none" />
<line x1="276.7" y1="307.2" x2="276.7" y2="357" stroke="#a85050" stroke-width="1" />
<path d="M264.2,319.5 Q267.7,318 269.6,315 M269.6,315 Q273.7,317 278.2,319.5" stroke="#ee1111" stroke-width="1.8" fill="none" />
<circle cx="269.6" cy="313.4" r="4.1" stroke="#ee1111" stroke-width="0" fill="#ee1111"/>
<circle cx="269.6" cy="313.4" r="1.6" stroke="#f7a050" stroke-width="0" fill="#f7a050"/>
<circle cx="269.4" cy="327.2" r="2.4" stroke="#f5a868" stroke-width="1.2" fill="#fbd0a8"/>
<line x1="275.1" y1="323.5" x2="275.1" y2="344.5" stroke="#d83030" stroke-width="1.4" />
<path d="M275.7,345.8 L271.9,348.2 L275.7,349.2 Z" stroke="#ee1111" stroke-width="0.6" fill="#ee1111" />
<g transform="translate(250.5,310.9)"><path d="M0,0 L4.2,0.4 L7.3,2.6 L7.6,3.9 L6.2,3.6 L4,2.4 L2.8,2.4 L2.8,4.4 L8,5.2 L11.3,7.2 L11.3,9 L9.6,9.4 L10,12 L8.4,12 L7.8,10.2 L3.8,10.2 L3,12 L1.6,12 L1.8,9.8 L0,9.6 Z" fill="#ee1111"/><rect x="0.9" y="1.6" width="1.2" height="2.4" fill="#fff" opacity="0.8"/><rect x="0.9" y="5.6" width="1.2" height="1.4" fill="#fff" opacity="0.8"/></g>
<g transform="translate(277.8,310.9)"><path d="M0,0 L4.2,0.4 L7.3,2.6 L7.6,3.9 L6.2,3.6 L4,2.4 L2.8,2.4 L2.8,4.4 L8,5.2 L11.3,7.2 L11.3,9 L9.6,9.4 L10,12 L8.4,12 L7.8,10.2 L3.8,10.2 L3,12 L1.6,12 L1.8,9.8 L0,9.6 Z" fill="#ee1111"/><rect x="0.9" y="1.6" width="1.2" height="2.4" fill="#fff" opacity="0.8"/><rect x="0.9" y="5.6" width="1.2" height="1.4" fill="#fff" opacity="0.8"/></g>
<rect x="265.4" y="415.8" width="11.3" height="99.6" stroke="#a85050" stroke-width="1" fill="none" rx="0" />
<circle cx="271" cy="421.2" r="1.25" stroke="#b02828" stroke-width="1.1" fill="none"/>
<circle cx="271" cy="428.6" r="1.25" stroke="#b02828" stroke-width="1.1" fill="none"/>
<circle cx="271" cy="436" r="1.25" stroke="#b02828" stroke-width="1.1" fill="none"/>
<circle cx="271" cy="443.4" r="1.25" stroke="#b02828" stroke-width="1.1" fill="none"/>
<circle cx="271" cy="450.8" r="1.25" stroke="#b02828" stroke-width="1.1" fill="none"/>
<circle cx="271" cy="458.2" r="1.25" stroke="#b02828" stroke-width="1.1" fill="none"/>
<circle cx="271" cy="465.6" r="1.25" stroke="#b02828" stroke-width="1.1" fill="none"/>
<circle cx="271" cy="473" r="1.25" stroke="#b02828" stroke-width="1.1" fill="none"/>
<circle cx="271" cy="480.4" r="1.25" stroke="#b02828" stroke-width="1.1" fill="none"/>
<circle cx="271" cy="487.8" r="1.25" stroke="#b02828" stroke-width="1.1" fill="none"/>
<circle cx="271" cy="495.2" r="1.25" stroke="#b02828" stroke-width="1.1" fill="none"/>
<circle cx="271" cy="502.6" r="1.25" stroke="#b02828" stroke-width="1.1" fill="none"/>
<circle cx="271" cy="510" r="1.25" stroke="#b02828" stroke-width="1.1" fill="none"/>
<g transform="translate(275.6,512.3)"><path d="M0,1.5 L14.2,1.8 L14.2,4.4 L13.2,4.4 L13.2,11.5 L8.8,11.5 L6,9.4 L6.8,8.8 L8.8,10 L8.8,4.4 L0,4.2 Z" fill="#ee1111"/><path d="M3.4,0.3 Q7.4,1.4 11.4,0.3" stroke="#ee1111" stroke-width="1.4" fill="none"/><rect x="10" y="5.4" width="1.6" height="1.8" fill="#fff" opacity="0.85"/><rect x="10" y="8.4" width="1.6" height="1.8" fill="#fff" opacity="0.85"/></g>
<g transform="translate(303.5,512.3)"><path d="M0,1.5 L14.2,1.8 L14.2,4.4 L13.2,4.4 L13.2,11.5 L8.8,11.5 L6,9.4 L6.8,8.8 L8.8,10 L8.8,4.4 L0,4.2 Z" fill="#ee1111"/><path d="M3.4,0.3 Q7.4,1.4 11.4,0.3" stroke="#ee1111" stroke-width="1.4" fill="none"/><rect x="10" y="5.4" width="1.6" height="1.8" fill="#fff" opacity="0.85"/><rect x="10" y="8.4" width="1.6" height="1.8" fill="#fff" opacity="0.85"/></g>
<path d="M289.7,516.5 Q296.7,523 303.5,516.5" stroke="#ee1111" stroke-width="1.2" fill="none" />
<circle cx="296.6" cy="521.1" r="3.6" fill="#ee1111" stroke="#ee1111" stroke-width="1" stroke-dasharray="1 1"/>
<circle cx="296.6" cy="521.1" r="1.3" stroke="#f7a050" stroke-width="0" fill="#f7a050"/>
<path d="M331.1,307.2 H322.8 Q319.8,307.2 319.8,310.2 V355 Q319.8,357 321.8,357 H331.1" stroke="#a85050" stroke-width="1" fill="none" />
<line x1="331.1" y1="307.2" x2="331.1" y2="357" stroke="#a85050" stroke-width="1" />
<path d="M318.6,319.5 Q322.1,318 324,315 M324,315 Q328.1,317 332.6,319.5" stroke="#ee1111" stroke-width="1.8" fill="none" />
<circle cx="324" cy="313.4" r="4.1" stroke="#ee1111" stroke-width="0" fill="#ee1111"/>
<circle cx="324" cy="313.4" r="1.6" stroke="#f7a050" stroke-width="0" fill="#f7a050"/>
<circle cx="323.8" cy="327.2" r="2.4" stroke="#f5a868" stroke-width="1.2" fill="#fbd0a8"/>
<line x1="329.5" y1="323.5" x2="329.5" y2="344.5" stroke="#d83030" stroke-width="1.4" />
<path d="M330.1,345.8 L326.3,348.2 L330.1,349.2 Z" stroke="#ee1111" stroke-width="0.6" fill="#ee1111" />
<g transform="translate(304.9,310.9)"><path d="M0,0 L4.2,0.4 L7.3,2.6 L7.6,3.9 L6.2,3.6 L4,2.4 L2.8,2.4 L2.8,4.4 L8,5.2 L11.3,7.2 L11.3,9 L9.6,9.4 L10,12 L8.4,12 L7.8,10.2 L3.8,10.2 L3,12 L1.6,12 L1.8,9.8 L0,9.6 Z" fill="#ee1111"/><rect x="0.9" y="1.6" width="1.2" height="2.4" fill="#fff" opacity="0.8"/><rect x="0.9" y="5.6" width="1.2" height="1.4" fill="#fff" opacity="0.8"/></g>
<g transform="translate(332.2,310.9)"><path d="M0,0 L4.2,0.4 L7.3,2.6 L7.6,3.9 L6.2,3.6 L4,2.4 L2.8,2.4 L2.8,4.4 L8,5.2 L11.3,7.2 L11.3,9 L9.6,9.4 L10,12 L8.4,12 L7.8,10.2 L3.8,10.2 L3,12 L1.6,12 L1.8,9.8 L0,9.6 Z" fill="#ee1111"/><rect x="0.9" y="1.6" width="1.2" height="2.4" fill="#fff" opacity="0.8"/><rect x="0.9" y="5.6" width="1.2" height="1.4" fill="#fff" opacity="0.8"/></g>
<rect x="319.8" y="415.8" width="11.3" height="99.6" stroke="#a85050" stroke-width="1" fill="none" rx="0" />
<circle cx="325.4" cy="421.2" r="1.25" stroke="#b02828" stroke-width="1.1" fill="none"/>
<circle cx="325.4" cy="428.6" r="1.25" stroke="#b02828" stroke-width="1.1" fill="none"/>
<circle cx="325.4" cy="436" r="1.25" stroke="#b02828" stroke-width="1.1" fill="none"/>
<circle cx="325.4" cy="443.4" r="1.25" stroke="#b02828" stroke-width="1.1" fill="none"/>
<circle cx="325.4" cy="450.8" r="1.25" stroke="#b02828" stroke-width="1.1" fill="none"/>
<circle cx="325.4" cy="458.2" r="1.25" stroke="#b02828" stroke-width="1.1" fill="none"/>
<circle cx="325.4" cy="465.6" r="1.25" stroke="#b02828" stroke-width="1.1" fill="none"/>
<circle cx="325.4" cy="473" r="1.25" stroke="#b02828" stroke-width="1.1" fill="none"/>
<circle cx="325.4" cy="480.4" r="1.25" stroke="#b02828" stroke-width="1.1" fill="none"/>
<circle cx="325.4" cy="487.8" r="1.25" stroke="#b02828" stroke-width="1.1" fill="none"/>
<circle cx="325.4" cy="495.2" r="1.25" stroke="#b02828" stroke-width="1.1" fill="none"/>
<circle cx="325.4" cy="502.6" r="1.25" stroke="#b02828" stroke-width="1.1" fill="none"/>
<circle cx="325.4" cy="510" r="1.25" stroke="#b02828" stroke-width="1.1" fill="none"/>
<g transform="translate(330,512.3)"><path d="M0,1.5 L14.2,1.8 L14.2,4.4 L13.2,4.4 L13.2,11.5 L8.8,11.5 L6,9.4 L6.8,8.8 L8.8,10 L8.8,4.4 L0,4.2 Z" fill="#ee1111"/><path d="M3.4,0.3 Q7.4,1.4 11.4,0.3" stroke="#ee1111" stroke-width="1.4" fill="none"/><rect x="10" y="5.4" width="1.6" height="1.8" fill="#fff" opacity="0.85"/><rect x="10" y="8.4" width="1.6" height="1.8" fill="#fff" opacity="0.85"/></g>
<g transform="translate(357.9,512.3)"><path d="M0,1.5 L14.2,1.8 L14.2,4.4 L13.2,4.4 L13.2,11.5 L8.8,11.5 L6,9.4 L6.8,8.8 L8.8,10 L8.8,4.4 L0,4.2 Z" fill="#ee1111"/><path d="M3.4,0.3 Q7.4,1.4 11.4,0.3" stroke="#ee1111" stroke-width="1.4" fill="none"/><rect x="10" y="5.4" width="1.6" height="1.8" fill="#fff" opacity="0.85"/><rect x="10" y="8.4" width="1.6" height="1.8" fill="#fff" opacity="0.85"/></g>
<path d="M344.1,516.5 Q351.1,523 357.9,516.5" stroke="#ee1111" stroke-width="1.2" fill="none" />
<circle cx="351" cy="521.1" r="3.6" fill="#ee1111" stroke="#ee1111" stroke-width="1" stroke-dasharray="1 1"/>
<circle cx="351" cy="521.1" r="1.3" stroke="#f7a050" stroke-width="0" fill="#f7a050"/>
<path d="M385.3,307.2 H377 Q374,307.2 374,310.2 V355 Q374,357 376,357 H385.3" stroke="#a85050" stroke-width="1" fill="none" />
<line x1="385.3" y1="307.2" x2="385.3" y2="357" stroke="#a85050" stroke-width="1" />
<path d="M372.8,319.5 Q376.3,318 378.2,315 M378.2,315 Q382.3,317 386.8,319.5" stroke="#ee1111" stroke-width="1.8" fill="none" />
<circle cx="378.2" cy="313.4" r="4.1" stroke="#ee1111" stroke-width="0" fill="#ee1111"/>
<circle cx="378.2" cy="313.4" r="1.6" stroke="#f7a050" stroke-width="0" fill="#f7a050"/>
<circle cx="378" cy="327.2" r="2.4" stroke="#f5a868" stroke-width="1.2" fill="#fbd0a8"/>
<line x1="383.7" y1="323.5" x2="383.7" y2="344.5" stroke="#d83030" stroke-width="1.4" />
<path d="M384.3,345.8 L380.5,348.2 L384.3,349.2 Z" stroke="#ee1111" stroke-width="0.6" fill="#ee1111" />
<g transform="translate(359.1,310.9)"><path d="M0,0 L4.2,0.4 L7.3,2.6 L7.6,3.9 L6.2,3.6 L4,2.4 L2.8,2.4 L2.8,4.4 L8,5.2 L11.3,7.2 L11.3,9 L9.6,9.4 L10,12 L8.4,12 L7.8,10.2 L3.8,10.2 L3,12 L1.6,12 L1.8,9.8 L0,9.6 Z" fill="#ee1111"/><rect x="0.9" y="1.6" width="1.2" height="2.4" fill="#fff" opacity="0.8"/><rect x="0.9" y="5.6" width="1.2" height="1.4" fill="#fff" opacity="0.8"/></g>
<g transform="translate(386.4,310.9)"><path d="M0,0 L4.2,0.4 L7.3,2.6 L7.6,3.9 L6.2,3.6 L4,2.4 L2.8,2.4 L2.8,4.4 L8,5.2 L11.3,7.2 L11.3,9 L9.6,9.4 L10,12 L8.4,12 L7.8,10.2 L3.8,10.2 L3,12 L1.6,12 L1.8,9.8 L0,9.6 Z" fill="#ee1111"/><rect x="0.9" y="1.6" width="1.2" height="2.4" fill="#fff" opacity="0.8"/><rect x="0.9" y="5.6" width="1.2" height="1.4" fill="#fff" opacity="0.8"/></g>
<rect x="374" y="415.8" width="11.3" height="99.6" stroke="#a85050" stroke-width="1" fill="none" rx="0" />
<circle cx="379.6" cy="421.2" r="1.25" stroke="#b02828" stroke-width="1.1" fill="none"/>
<circle cx="379.6" cy="428.6" r="1.25" stroke="#b02828" stroke-width="1.1" fill="none"/>
<circle cx="379.6" cy="436" r="1.25" stroke="#b02828" stroke-width="1.1" fill="none"/>
<circle cx="379.6" cy="443.4" r="1.25" stroke="#b02828" stroke-width="1.1" fill="none"/>
<circle cx="379.6" cy="450.8" r="1.25" stroke="#b02828" stroke-width="1.1" fill="none"/>
<circle cx="379.6" cy="458.2" r="1.25" stroke="#b02828" stroke-width="1.1" fill="none"/>
<circle cx="379.6" cy="465.6" r="1.25" stroke="#b02828" stroke-width="1.1" fill="none"/>
<circle cx="379.6" cy="473" r="1.25" stroke="#b02828" stroke-width="1.1" fill="none"/>
<circle cx="379.6" cy="480.4" r="1.25" stroke="#b02828" stroke-width="1.1" fill="none"/>
<circle cx="379.6" cy="487.8" r="1.25" stroke="#b02828" stroke-width="1.1" fill="none"/>
<circle cx="379.6" cy="495.2" r="1.25" stroke="#b02828" stroke-width="1.1" fill="none"/>
<circle cx="379.6" cy="502.6" r="1.25" stroke="#b02828" stroke-width="1.1" fill="none"/>
<circle cx="379.6" cy="510" r="1.25" stroke="#b02828" stroke-width="1.1" fill="none"/>
<g transform="translate(384.2,512.3)"><path d="M0,1.5 L14.2,1.8 L14.2,4.4 L13.2,4.4 L13.2,11.5 L8.8,11.5 L6,9.4 L6.8,8.8 L8.8,10 L8.8,4.4 L0,4.2 Z" fill="#ee1111"/><path d="M3.4,0.3 Q7.4,1.4 11.4,0.3" stroke="#ee1111" stroke-width="1.4" fill="none"/><rect x="10" y="5.4" width="1.6" height="1.8" fill="#fff" opacity="0.85"/><rect x="10" y="8.4" width="1.6" height="1.8" fill="#fff" opacity="0.85"/></g>
<g transform="translate(412.1,512.3)"><path d="M0,1.5 L14.2,1.8 L14.2,4.4 L13.2,4.4 L13.2,11.5 L8.8,11.5 L6,9.4 L6.8,8.8 L8.8,10 L8.8,4.4 L0,4.2 Z" fill="#ee1111"/><path d="M3.4,0.3 Q7.4,1.4 11.4,0.3" stroke="#ee1111" stroke-width="1.4" fill="none"/><rect x="10" y="5.4" width="1.6" height="1.8" fill="#fff" opacity="0.85"/><rect x="10" y="8.4" width="1.6" height="1.8" fill="#fff" opacity="0.85"/></g>
<path d="M398.3,516.5 Q405.3,523 412.1,516.5" stroke="#ee1111" stroke-width="1.2" fill="none" />
<circle cx="405.2" cy="521.1" r="3.6" fill="#ee1111" stroke="#ee1111" stroke-width="1" stroke-dasharray="1 1"/>
<circle cx="405.2" cy="521.1" r="1.3" stroke="#f7a050" stroke-width="0" fill="#f7a050"/>
<g transform="translate(413,310.9)"><path d="M0,0 L4.2,0.4 L7.3,2.6 L7.6,3.9 L6.2,3.6 L4,2.4 L2.8,2.4 L2.8,4.4 L8,5.2 L11.3,7.2 L11.3,9 L9.6,9.4 L10,12 L8.4,12 L7.8,10.2 L3.8,10.2 L3,12 L1.6,12 L1.8,9.8 L0,9.6 Z" fill="#ee1111"/><rect x="0.9" y="1.6" width="1.2" height="2.4" fill="#fff" opacity="0.8"/><rect x="0.9" y="5.6" width="1.2" height="1.4" fill="#fff" opacity="0.8"/></g>
<line x1="426.3" y1="513" x2="426.3" y2="556" stroke="#777" stroke-width="0.9" />
<path d="M157.2,483.3 C155.2,485.6 154.2,486.1 151.2,486.1 H141.1 Q136.9,486.1 136.9,489.8 V507.8 Q136.9,511.5 141.1,511.5 H151.2 C154.2,511.5 155.2,512 157.2,514.3" stroke="#a85050" stroke-width="1" fill="#fff" />
<circle cx="142.1" cy="498.8" r="5.2" stroke="#d02424" stroke-width="1.3" fill="none"/>
<circle cx="142.1" cy="498.8" r="3.2" stroke="#d02424" stroke-width="1.2" fill="none"/>
<path d="M211.2,476.2 C209.2,478.5 208.2,479 205.2,479 H195.1 Q190.9,479 190.9,482.7 V500.7 Q190.9,504.4 195.1,504.4 H205.2 C208.2,504.4 209.2,504.9 211.2,507.2" stroke="#a85050" stroke-width="1" fill="#fff" />
<circle cx="196.1" cy="491.7" r="5.2" stroke="#d02424" stroke-width="1.3" fill="none"/>
<circle cx="196.1" cy="491.7" r="3.2" stroke="#d02424" stroke-width="1.2" fill="none"/>
<path d="M265.4,460.8 C263.4,463.1 262.4,463.6 259.4,463.6 H249.3 Q245.1,463.6 245.1,467.3 V485.3 Q245.1,489 249.3,489 H259.4 C262.4,489 263.4,489.5 265.4,491.8" stroke="#a85050" stroke-width="1" fill="#fff" />
<circle cx="250.3" cy="476.3" r="5.2" stroke="#d02424" stroke-width="1.3" fill="none"/>
<circle cx="250.3" cy="476.3" r="3.2" stroke="#d02424" stroke-width="1.2" fill="none"/>
<path d="M319.8,446.2 C317.8,448.5 316.8,449 313.8,449 H303.7 Q299.5,449 299.5,452.7 V470.7 Q299.5,474.4 303.7,474.4 H313.8 C316.8,474.4 317.8,474.9 319.8,477.2" stroke="#a85050" stroke-width="1" fill="#fff" />
<circle cx="304.7" cy="461.7" r="5.2" stroke="#d02424" stroke-width="1.3" fill="none"/>
<circle cx="304.7" cy="461.7" r="3.2" stroke="#d02424" stroke-width="1.2" fill="none"/>
<path d="M374,438.5 C372,440.8 371,441.3 368,441.3 H357.9 Q353.7,441.3 353.7,445 V463 Q353.7,466.7 357.9,466.7 H368 C371,466.7 372,467.2 374,469.5" stroke="#a85050" stroke-width="1" fill="#fff" />
<circle cx="358.9" cy="454" r="5.2" stroke="#d02424" stroke-width="1.3" fill="none"/>
<circle cx="358.9" cy="454" r="3.2" stroke="#d02424" stroke-width="1.2" fill="none"/>
<line x1="320.3" y1="357" x2="320.3" y2="481.3" stroke="#151515" stroke-width="1.6" />
</svg></body></html>
